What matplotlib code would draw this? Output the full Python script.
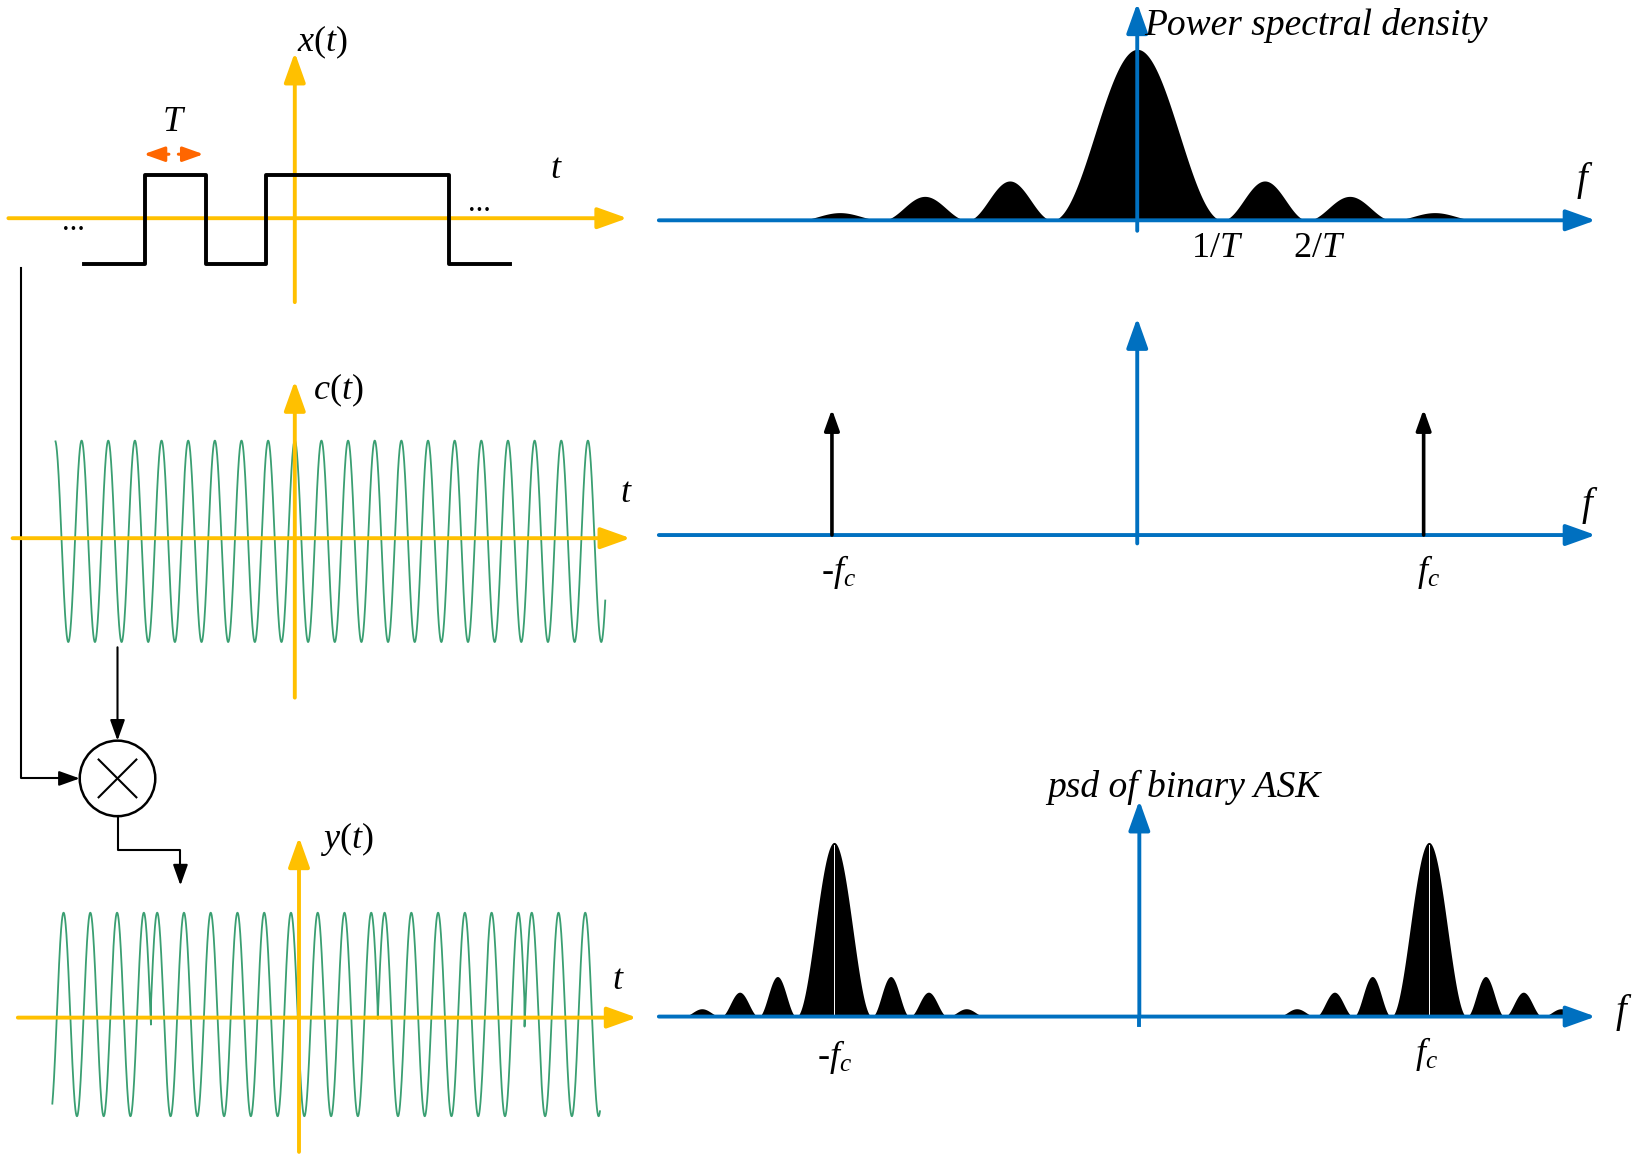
import numpy as np
import matplotlib.pyplot as plt
from matplotlib.patches import Circle

plt.rcParams['mathtext.fontset'] = 'custom'
plt.rcParams['mathtext.rm'] = 'Liberation Serif'
plt.rcParams['mathtext.it'] = 'Liberation Serif:italic'

# data
bits = [0, 1, 0, 1, 1, 1, 0]                 # x(t) bit sequence
c_t_range = (-8.98, 11.65)                  # carrier span, in carrier periods
y_t_range = (-9.22, 11.25)                  # y(t) span, in carrier periods
y_flips = [-5.53, 2.94, 8.43]               # where y(t) reverses sign
y_first_sign = 1
psd_heights = [1.0, 0.23, 0.14, 0.045]      # main lobe + side lobes (relative)
impulse_height = 0.74                        # relative to axis height in middle panel

ORANGE = '#FFC000'
BLUE = '#0070C0'
GREEN = '#3A9F72'
SERIF = 'Liberation Serif'

fig = plt.figure(figsize=(16.45, 11.54), dpi=100)
ax = fig.add_axes([0, 0, 1, 1])
ax.set_xlim(0, 1568)
ax.set_ylim(1100, 0)
ax.axis('off')


def arrow(x0, y0, x1, y1, color, lw=2.8, ms=26):
    ax.annotate('', xy=(x1, y1), xytext=(x0, y0),
                arrowprops=dict(arrowstyle='-|>,head_length=0.7,head_width=0.25',
                                color=color, lw=lw, mutation_scale=ms,
                                shrinkA=0, shrinkB=0))


def label(x, y, s, size=26, ha='center', style='normal'):
    ax.text(x, y, s, fontsize=size, ha=ha, va='center', family=SERIF, style=style)


# ---- x(t) ----
arrow(8, 208, 598, 208, ORANGE)
arrow(281, 288, 281, 50, ORANGE)
T_px, x_start, lo, hi = 58, 80, 252, 167
xs = x_start + T_px * np.arange(len(bits) + 1)
lv = [hi if b else lo for b in bits]
ax.step(xs, lv + [lv[-1]], where='post', color='black', lw=2.8, zorder=3)
arrow(161, 147, 137, 147, '#FF6600', lw=2.2, ms=18)
arrow(170, 147, 194, 147, '#FF6600', lw=2.2, ms=18)
label(283, 40, r'$x(t)$', ha='left')
label(166, 117, r'$T$')
label(530, 162, r'$t$')
label(70, 212, '...', size=22)
label(457, 194, '...', size=22)

# ---- c(t) ----
arrow(12, 513, 601, 513, ORANGE)
arrow(281, 665, 281, 363, ORANGE)
t = np.linspace(c_t_range[0], c_t_range[1], 3000)
ax.plot(281 + 25.4 * t, 516 - 96 * np.cos(2 * np.pi * t), color=GREEN, lw=1.3)
label(298, 372, r'$c(t)$', ha='left')
label(597, 470, r'$t$')

# ---- y(t) ----
arrow(17, 970, 607, 970, ORANGE)
arrow(285, 1098, 285, 798, ORANGE)
t = np.linspace(y_t_range[0], y_t_range[1], 3000)
sign = y_first_sign * (-1.0) ** np.searchsorted(y_flips, t)
ax.plot(285 + 25.5 * t, 967 - 97 * sign * np.cos(2 * np.pi * (t - 0.2)), color=GREEN, lw=1.3)
label(305, 800, r'$y(t)$', ha='left')
label(589, 935, r'$t$')

# ---- block diagram ----
ax.add_patch(Circle((112, 742), 36, fill=False, lw=1.8, color='black'))
ax.plot([94, 130], [724, 760], color='black', lw=1.5)
ax.plot([94, 130], [760, 724], color='black', lw=1.5)
ax.plot([20, 20, 60], [255, 742, 742], color='black', lw=1.5)
arrow(58, 742, 76, 742, 'black', lw=1.5, ms=18)
arrow(112, 617, 112, 706, 'black', lw=1.5, ms=18)
ax.plot([112, 112, 172, 172], [778, 810, 810, 828], color='black', lw=1.5)
arrow(172, 826, 172, 844, 'black', lw=1.5, ms=18)


def psd(cx, axis_y, spacing, height):
    u = np.linspace(-4, 4, 1600)
    au = np.abs(u)
    k = np.floor(au).astype(int)
    h = np.array(psd_heights)[np.minimum(k, 3)]
    shape = np.where(k == 0, np.cos(np.pi * au / 2) ** 2, np.sin(np.pi * (au - k)) ** 2)
    ax.fill_between(cx + spacing * u, axis_y, axis_y - height * h * shape, color='black', lw=0, zorder=2)


# ---- top right: PSD of x(t) ----
psd(1084, 210, 81, 163)
arrow(628, 210, 1521, 210, BLUE)
arrow(1084, 220, 1084, 3, BLUE)
label(1091, 24, 'Power spectral density', size=27, ha='left', style='italic')
label(1510, 172, r'$f$', size=28)
label(1160, 237, r'1/$T$')
label(1257, 237, r'2/$T$')

# ---- middle right: carrier spectrum ----
arrow(628, 510, 1521, 510, BLUE)
arrow(1084, 518, 1084, 303, BLUE)
for fx in (793, 1357):
    arrow(fx, 510, fx, 510 - 162 * impulse_height, 'black', lw=2.6, ms=18)
label(1515, 482, r'$f$', size=28)
label(799, 545, r'-$f_c$')
label(1362, 545, r'$f_c$')

# ---- bottom right: PSD of ASK ----
for fx in (795, 1362):
    psd(fx, 969, 36, 166)
    ax.plot([fx, fx], [969, 805], color='white', lw=0.7, zorder=2.5)
arrow(628, 969, 1521, 969, BLUE)
ax.plot([1086, 1086], [977, 969], color=BLUE, lw=2.8)
arrow(1086, 969, 1086, 763, BLUE)
label(1128, 751, 'psd of binary ASK', size=27, style='italic')
label(1548, 965, r'$f$', size=28)
label(795, 1008, r'-$f_c$')
label(1360, 1005, r'$f_c$')

fig.savefig('out.png', dpi=100)
